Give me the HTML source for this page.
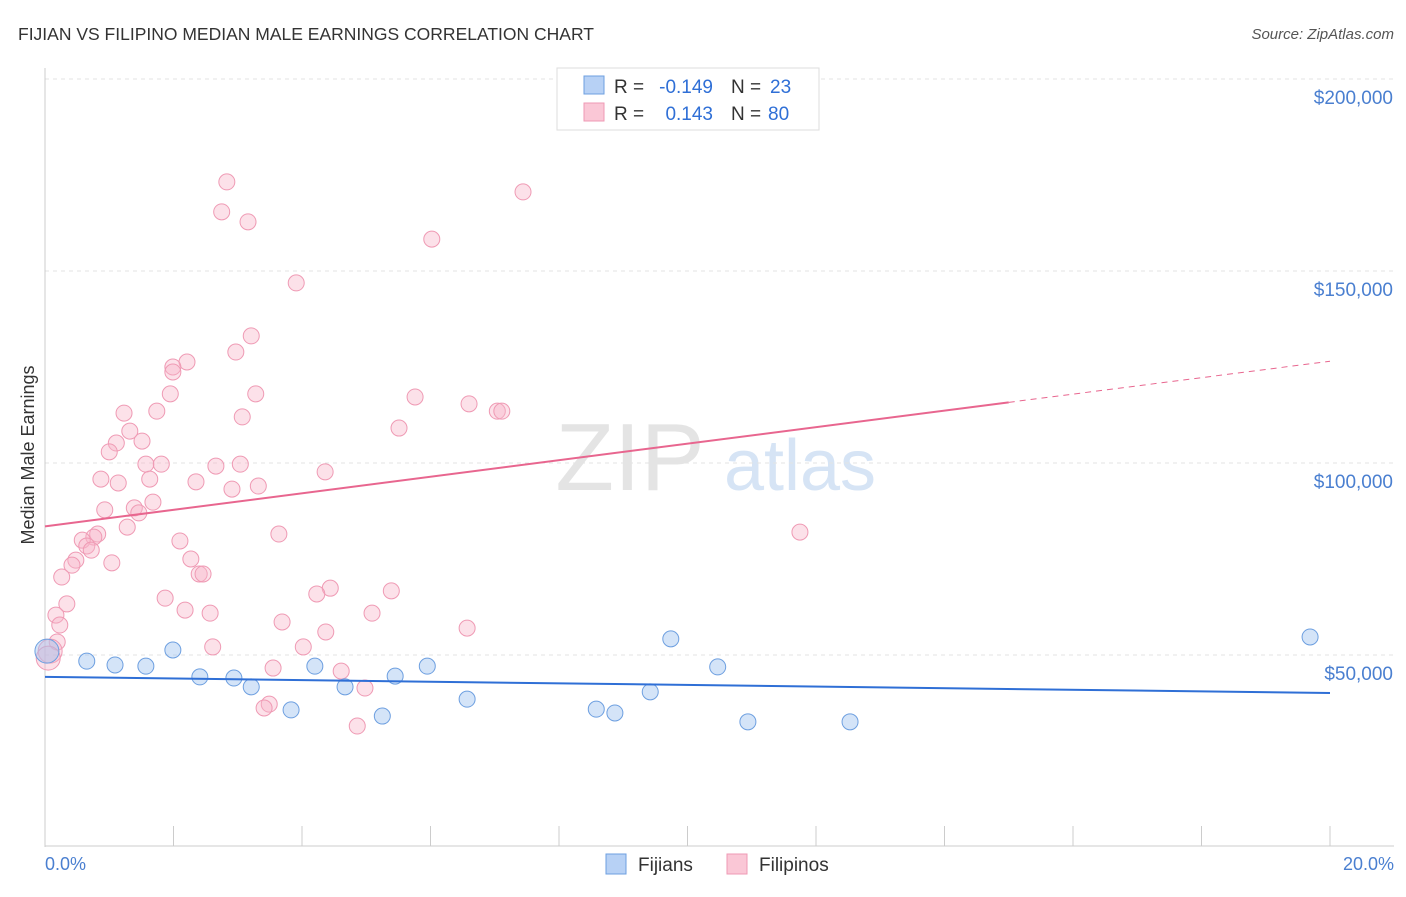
<!DOCTYPE html>
<html><head><meta charset="utf-8"><style>
body{margin:0;background:#fff;font-family:"Liberation Sans",sans-serif}
svg text{font-family:"Liberation Sans",sans-serif}
</style></head><body>
<svg id="c" width="1406" height="892"></svg>
<script>
const fijianX=[0.03,0.65,1.09,1.57,1.99,2.41,2.94,3.21,3.83,4.20,4.67,5.25,5.45,5.95,6.57,8.58,8.87,9.42,9.74,10.47,10.94,12.53,19.69];
const fijianY=[51000,48400,47400,47100,51300,44300,44000,41700,35700,47100,41700,34100,44500,47100,38500,35900,34900,40400,54200,46900,32600,32600,54700];
const filipinoPx=[[227,182],[222,212],[248,222],[523,192],[432,239],[296,283],[251,336],[236,352],[187,362],[173,367],[173,372],[170,394],[124,413],[157,411],[242,417],[256,394],[415,397],[469,404],[497,411],[502,411],[399,428],[130,431],[116,443],[142,441],[109,452],[146,464],[161,464],[216,466],[240,464],[325,472],[101,479],[118,483],[150,479],[196,482],[232,489],[258,486],[153,502],[105,510],[134,508],[139,513],[127,527],[279,534],[98,534],[94,537],[82,540],[87,546],[91,550],[180,541],[76,560],[72,565],[112,563],[191,559],[199,574],[203,574],[62,577],[165,598],[330,588],[317,594],[391,591],[67,604],[185,610],[210,613],[372,613],[56,615],[60,625],[282,622],[326,632],[467,628],[213,647],[303,647],[57,642],[50,651],[48,658],[273,668],[341,671],[365,688],[269,704],[264,708],[357,726],[800,532]];
const filipinoX=filipinoPx.map(p=>+((p[0]-45)/1285*20).toFixed(2));
const filipinoY=filipinoPx.map(p=>Math.round((847-p[1])/192*50000/100)*100);
const yTicks=[50000,100000,150000,200000];
const yTickLabels=["$50,000","$100,000","$150,000","$200,000"];
const fijianTrend=[[0,44300],[20,40100]];
const filipinoTrend=[[0,83500],[15,115800],[20,126500]];

const NS="http://www.w3.org/2000/svg",svg=document.getElementById('c');
const X=v=>45+v/20*1285, Y=v=>847-v/50000*192;
function el(t,a,txt){const e=document.createElementNS(NS,t);for(const k in a)e.setAttribute(k,a[k]);if(txt!=null)e.textContent=txt;svg.appendChild(e);return e;}
let e;
e=el('text',{x:18,y:40,'font-size':17.5,fill:'#333'},'FIJIAN VS FILIPINO MEDIAN MALE EARNINGS CORRELATION CHART');

e=el('text',{x:1394,y:39,'font-size':15,fill:'#555','text-anchor':'end','font-style':'italic'},'Source: ZipAtlas.com');

e=el('text',{x:630,y:490,'font-size':96,fill:'#e4e4e4','font-family':'Liberation Serif','text-anchor':'middle'},'ZIP');

e=el('text',{x:800,y:490,'font-size':72,fill:'#d6e4f5','text-anchor':'middle'},'atlas');

el('line',{x1:45,y1:79,x2:1394,y2:79,stroke:'#ddd','stroke-dasharray':'4,4'});
yTicks.forEach((t,i)=>{
  e=el('line',{x1:45,y1:Y(t),x2:1394,y2:Y(t),stroke:'#e3e3e3','stroke-dasharray':'4,4'});
  
  e=el('text',{x:1393,y:Y(t)+25,'font-size':19,fill:'#4a7fd0','text-anchor':'end'},yTickLabels[i]);
  
});
el('line',{x1:45,y1:68,x2:45,y2:847,stroke:'#ccc'});
el('line',{x1:45,y1:846,x2:1394,y2:846,stroke:'#ccc'});
for(let i=0;i<=10;i++){e=el('line',{x1:X(i*2),y1:826,x2:X(i*2),y2:846,stroke:'#ccc'});}
e=el('text',{x:45,y:870,'font-size':18,fill:'#4a7fd0'},'0.0%');
e=el('text',{x:1394,y:870,'font-size':18,fill:'#4a7fd0','text-anchor':'end'},'20.0%');
e=el('text',{x:34,y:455,'font-size':18,fill:'#333','text-anchor':'middle',transform:'rotate(-90 34 455)'},'Median Male Earnings');

filipinoX.forEach((x,i)=>{e=el('circle',{cx:X(x),cy:Y(filipinoY[i]),r:x<0.12?12:8,fill:'rgba(248,180,200,0.4)',stroke:'#ef9ab4','stroke-width':1});
  });
fijianX.forEach((x,i)=>{e=el('circle',{cx:X(x),cy:Y(fijianY[i]),r:x<0.1?12:8,fill:'rgba(160,195,240,0.45)',stroke:'#6d9fe0','stroke-width':1});
  });
e=el('line',{x1:X(fijianTrend[0][0]),y1:Y(fijianTrend[0][1]),x2:X(fijianTrend[1][0]),y2:Y(fijianTrend[1][1]),stroke:'#2f6fd6','stroke-width':2});

e=el('line',{x1:X(filipinoTrend[0][0]),y1:Y(filipinoTrend[0][1]),x2:X(filipinoTrend[1][0]),y2:Y(filipinoTrend[1][1]),stroke:'#e8668f','stroke-width':2});

e=el('line',{x1:X(filipinoTrend[1][0]),y1:Y(filipinoTrend[1][1]),x2:X(filipinoTrend[2][0]),y2:Y(filipinoTrend[2][1]),stroke:'#e8668f','stroke-width':1,'stroke-dasharray':'6,5'});

e=el('rect',{x:557,y:68,width:262,height:62,fill:'#fff',stroke:'#ddd'});
el('rect',{x:584,y:76,width:20,height:18,fill:'#b7d1f5',stroke:'#6d9fe0'});
el('rect',{x:584,y:103,width:20,height:18,fill:'#fac7d6',stroke:'#ef9ab4'});
const lt=(x,y,t,c,a)=>{e=el('text',{x:x,y:y,'font-size':19,fill:c,'text-anchor':a||'start'},t);};
lt(614,93,'R =','#333');lt(713,93,'-0.149','#2f6fd6','end');lt(731,93,'N =','#333');lt(770,93,'23','#2f6fd6');
lt(614,120,'R =','#333');lt(713,120,'0.143','#2f6fd6','end');lt(731,120,'N =','#333');lt(768,120,'80','#2f6fd6');
e=el('rect',{x:606,y:854,width:20,height:20,fill:'#b7d1f5',stroke:'#6d9fe0'});
e=el('text',{x:638,y:871,'font-size':19,fill:'#333'},'Fijians');
e=el('rect',{x:727,y:854,width:20,height:20,fill:'#fac7d6',stroke:'#ef9ab4'});
e=el('text',{x:759,y:871,'font-size':19,fill:'#333'},'Filipinos');
</script></body></html>
